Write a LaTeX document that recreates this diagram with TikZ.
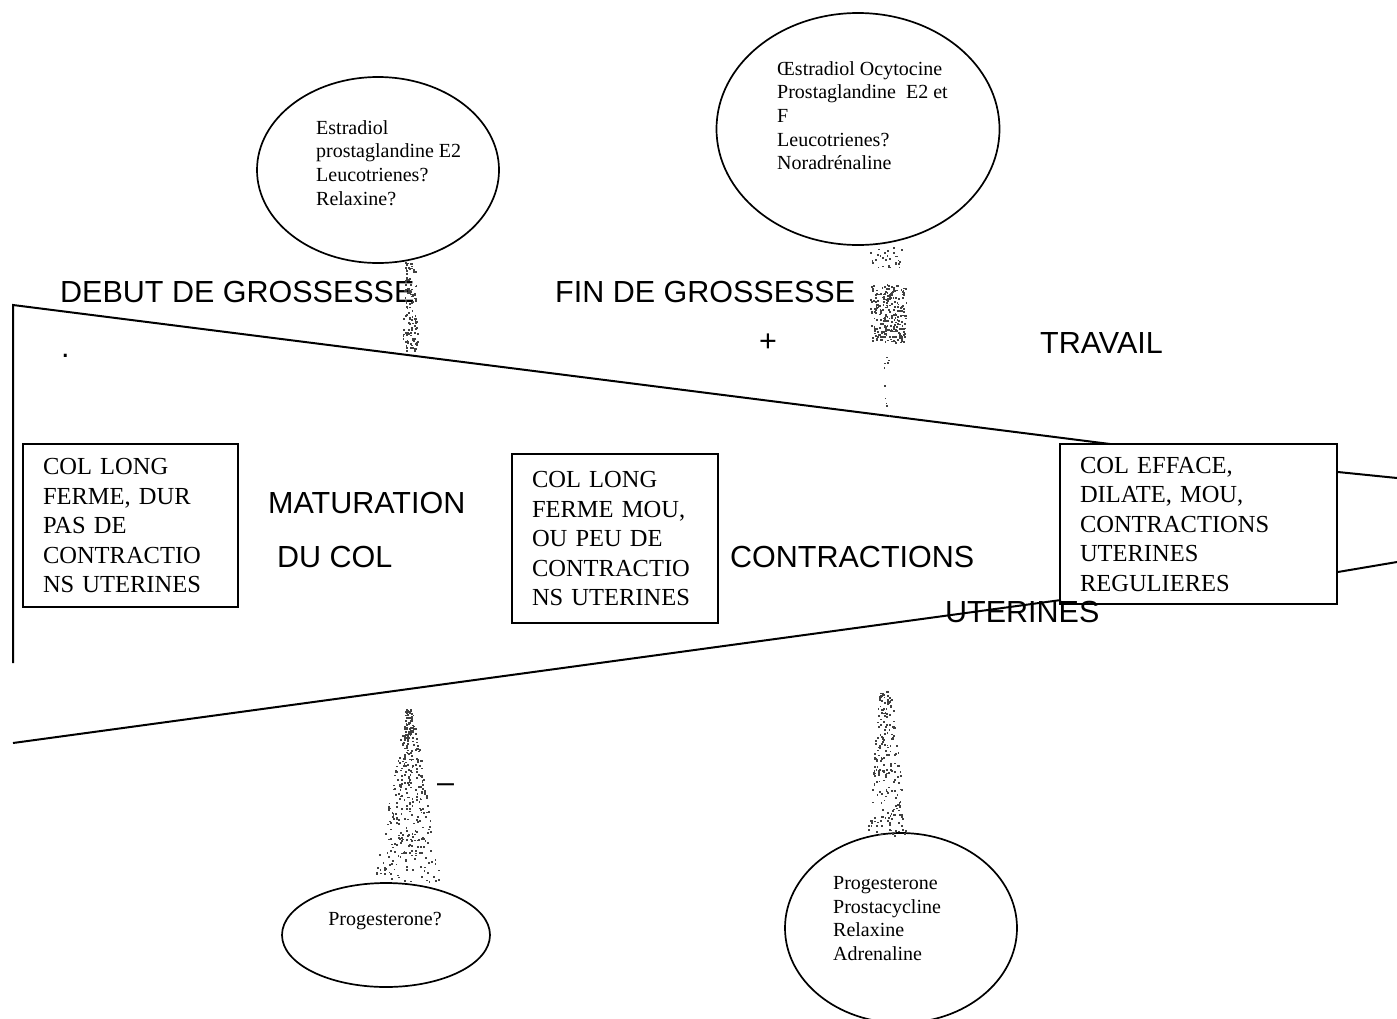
\documentclass[tikz,border=0pt]{standalone}
\usepackage{fontspec}
\setmainfont{Liberation Serif}
\newfontfamily\phasefont{Liberation Sans}
\usepackage{tikz}
\usetikzlibrary{calc,shapes}
\tikzset{% 
  stage box/.style={%
    draw,
    line width=1.7pt,
    rectangle,
    align=left,
    inner xsep=20pt,
    inner ysep=0pt,
    font=\fontsize{24.5}{29.5}\selectfont
  }
}
\tikzset{% 
  hormone bubble/.style={%
    draw,
    line width=1.7pt,
    ellipse,
    inner sep=0pt
  }
}
\tikzset{% 
  hormone list/.style={%
    align=left,
    inner sep=0pt,
    font=\fontsize{20}{23.7}\selectfont
  }
}
\tikzset{% 
  phase label/.style={%
    inner sep=0pt,
    anchor=west,
    font=\phasefont\fontsize{30.5}{36}\selectfont
  }
}
\tikzset{% 
  wedge/.style={%
    line width=2pt
  }
}
% grainy column between a bubble and the wedge
\newcommand{\hormonespray}[5]{%
  \foreach \k in {1,...,#3} {%
    \pgfmathsetmacro{\sprayt}{rnd}%
    \pgfmathsetmacro{\sprayw}{(#4+(#5-#4)*\sprayt)*rand}%
    \fill [black!75] ($(#1)!\sprayt!(#2)$) ++(\sprayw,0) rectangle ++(1.8,1.8);
  }%
}

\begin{document}
\begin{tikzpicture}[x=1pt,y=-1pt]
  \useasboundingbox (0,0) rectangle (1397,1018);
  \pgfmathsetseed{4711}
  % bubbles
  \node [hormone bubble, minimum width=242pt, minimum height=186pt] (early up) at (378,170) {};
  \node [hormone bubble, minimum width=283pt, minimum height=232pt] (late up) at (858,129) {};
  \node [hormone bubble, minimum width=208pt, minimum height=104pt] (early down) at (386,935) {};
  \node [hormone bubble, minimum width=232pt, minimum height=190pt] (late down) at (901,928) {};
  \node [hormone list, anchor=north west] (early up list) at (316,120) {Estradiol\\prostaglandine E2\\Leucotrienes?\\Relaxine?};
  \node [hormone list, anchor=north west] (late up list) at (777,61) {Œstradiol Ocytocine\\Prostaglandine\ \ E2 et\\F\\Leucotrienes?\\Noradrénaline};
  \node [hormone list] (early down list) at (385,921) {Progesterone?};
  \node [hormone list, anchor=north west] (late down list) at (833,876) {Progesterone\\Prostacycline\\Relaxine\\Adrenaline};
  % stages of the cervix
  \node [stage box, text width=175pt, minimum height=163pt] (col dur) at (130.5,525.5) {COL LONG\\FERME, DUR\\PAS DE\\CONTRACTIO\\NS UTERINES};
  \node [stage box, text width=166pt, minimum height=169pt] (col mou) at (615,538.5) {COL LONG\\FERME MOU,\\OU PEU DE\\CONTRACTIO\\NS UTERINES};
  \node [stage box, text width=237pt, minimum height=160pt] (col efface) at (1198.5,524) {COL EFFACE,\\DILATE, MOU,\\CONTRACTIONS\\UTERINES\\REGULIERES};
  % wedge
  \coordinate (w top) at (13,305);
  \coordinate (w gap) at (13,663);
  \coordinate (w bottom) at (13,743);
  \coordinate (w top end) at (1110,444);
  \coordinate (w bottom end) at (1061,600);
  \coordinate (r top) at (1397,478);
  \coordinate (r bottom) at (1397,562);
  \draw [wedge] (w gap) -- (w top) -- (w top end);
  \draw [wedge] (w bottom) -- (w bottom end);
  \draw [wedge] (col efface.east |- 0,472) -- (r top);
  \draw [wedge] (col efface.east |- 0,572) -- (r bottom);
  % labels
  \node [phase label] (debut) at (60,292) {DEBUT DE GROSSESSE};
  \node [phase label] (fin) at (555,292) {FIN DE GROSSESSE};
  \node [phase label] (travail) at (1040,343) {TRAVAIL};
  \node [phase label] (maturation) at (268,503) {MATURATION};
  \node [phase label] (du col) at (277,557) {DU COL};
  \node [phase label] (contractions) at (730,557) {CONTRACTIONS};
  \node [phase label] (uterines) at (945,612) {UTERINES};
  \node [phase label] (plus) at (759,343) {+};
  \node [phase label, anchor=base west] (dot) at (61,357) {.};
  \node [phase label] (minus) at (437,788) {–};
  % sprays
  \coordinate (s1 a) at (410,262);
  \coordinate (s1 b) at (410,350);
  \hormonespray{s1 a}{s1 b}{130}{5}{8}
  \coordinate (s2 a) at (884,247);
  \coordinate (s2 b) at (884,268);
  \hormonespray{s2 a}{s2 b}{30}{18}{18}
  \coordinate (s2 c) at (888,284);
  \coordinate (s2 d) at (888,342);
  \hormonespray{s2 c}{s2 d}{260}{20}{16}
  \coordinate (s2 e) at (884,345);
  \coordinate (s2 f) at (887,428);
  \hormonespray{s2 e}{s2 f}{10}{4}{4}
  \coordinate (s3 a) at (409,708);
  \coordinate (s3 b) at (408,882);
  \hormonespray{s3 a}{s3 b}{380}{3}{34}
  \coordinate (s4 a) at (885,690);
  \coordinate (s4 b) at (887,835);
  \hormonespray{s4 a}{s4 b}{230}{6}{20}
\end{tikzpicture}
\end{document}
